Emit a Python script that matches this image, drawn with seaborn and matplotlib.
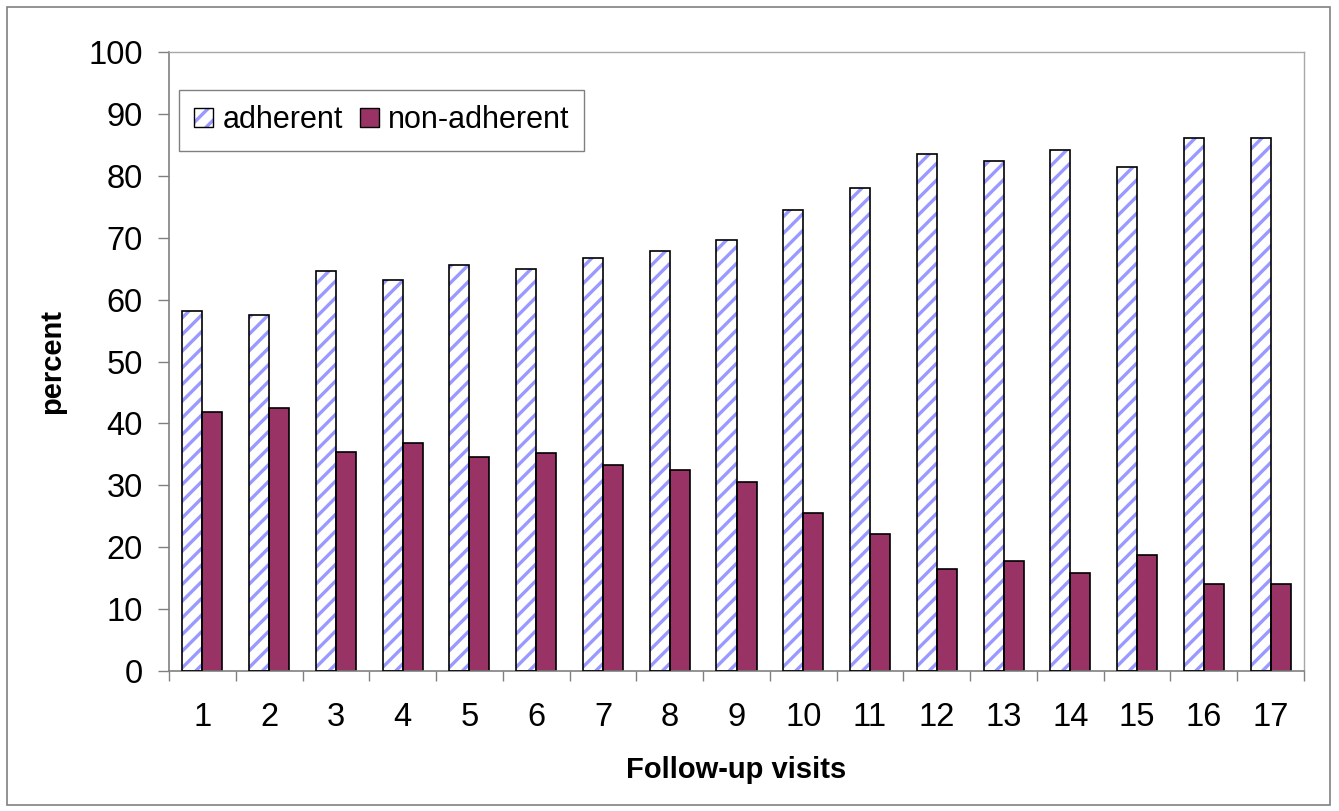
import pandas as pd
import matplotlib
matplotlib.use('Agg')
import matplotlib.pyplot as plt
import seaborn as sns
from matplotlib.patches import Patch, Rectangle
from matplotlib.legend_handler import HandlerTuple

# values
visits = [str(i) for i in range(1, 18)]
adherent = [58.2, 57.5, 64.6, 63.1, 65.6, 65.0, 66.8, 67.8, 69.6, 74.5,
            78.1, 83.6, 82.4, 84.2, 81.5, 86.1, 86.1]
non_adherent = [41.8, 42.5, 35.4, 36.9, 34.6, 35.2, 33.3, 32.4, 30.5, 25.5,
                22.1, 16.5, 17.8, 15.9, 18.7, 14.1, 14.1]
groups = ['adherent', 'non-adherent']
yticks = list(range(0, 101, 10))

df = pd.DataFrame({
    'visit': visits * 2,
    'group': ['adherent'] * len(visits) + ['non-adherent'] * len(visits),
    'percent': adherent + non_adherent,
})

sns.set_style('white')
plt.rcParams['font.family'] = ['Liberation Sans', 'DejaVu Sans']
plt.rcParams['hatch.linewidth'] = 2.4
plt.rcParams['text.color'] = 'black'
plt.rcParams['axes.labelcolor'] = 'black'
plt.rcParams['xtick.color'] = 'black'
plt.rcParams['ytick.color'] = 'black'

hatch_blue = '#9999ff'
maroon = '#993366'

fig = plt.figure(figsize=(13.39, 8.11), dpi=100)
ax = fig.add_axes([169 / 1339, 1 - 671 / 811, (1304 - 169) / 1339, (671 - 52) / 811])

sns.barplot(data=df, x='visit', y='percent', hue='group', hue_order=groups,
            order=visits, palette={'adherent': 'white', 'non-adherent': maroon},
            width=0.6, gap=0, edgecolor='black', linewidth=1.2, saturation=1,
            legend=False, ax=ax)

# hatched bars: hatch in blue, outline in black drawn on top
for bar in ax.containers[0]:
    bar.set_hatch('//')
    bar.set_edgecolor(hatch_blue)
    bar.set_linewidth(0)
    ax.add_patch(Rectangle(bar.get_xy(), bar.get_width(), bar.get_height(),
                           fill=False, edgecolor='black', linewidth=1.2, zorder=3))

ax.set_xlim(-0.5, len(visits) - 0.5)
ax.set_ylim(0, 100)
ax.set_yticks(yticks)
ax.set_xticks(range(len(visits)))
ax.set_xticklabels(visits)
ax.set_xticks([i - 0.5 for i in range(len(visits) + 1)], minor=True)
ax.tick_params(axis='x', which='major', length=0, pad=22, labelsize=23.5)
ax.tick_params(axis='x', which='minor', length=7, width=1, color='#808080',
               direction='out', bottom=True)
ax.tick_params(axis='y', length=8, width=1, color='#808080', direction='out',
               left=True, pad=11, labelsize=23.5)

for side in ['left', 'bottom']:
    ax.spines[side].set_color('#808080')
    ax.spines[side].set_linewidth(1.2)
for side in ['top', 'right']:
    ax.spines[side].set_color('#a8a8a8')
    ax.spines[side].set_linewidth(1.0)

ax.set_ylabel('percent', fontsize=21, fontweight='bold', labelpad=16)
ax.set_xlabel('Follow-up visits', fontsize=21, fontweight='bold', labelpad=17)

handles = [
    (Patch(facecolor='white', edgecolor=hatch_blue, hatch='//', linewidth=0),
     Patch(fill=False, edgecolor='black', linewidth=1)),
    Patch(facecolor=maroon, edgecolor='black', linewidth=1),
]
leg = ax.legend(handles, groups, handler_map={tuple: HandlerTuple(ndivide=1)},
                loc='upper left', bbox_to_anchor=(10 / 1135, (671 - 90) / 619),
                borderaxespad=0, ncol=2, fontsize=22, frameon=True, fancybox=False,
                handlelength=0.62, handleheight=0.62, handletextpad=0.3,
                columnspacing=0.55, borderpad=0.5)
leg.get_frame().set_edgecolor('#606060')
leg.get_frame().set_linewidth(1.0)

# outer chart border
fig.add_artist(Rectangle((7 / 1339, 1 - 805 / 811), (1330 - 7) / 1339, (805 - 7) / 811,
                         transform=fig.transFigure, fill=False,
                         edgecolor='#808080', linewidth=1.2))

fig.savefig('out.png', dpi=100)
